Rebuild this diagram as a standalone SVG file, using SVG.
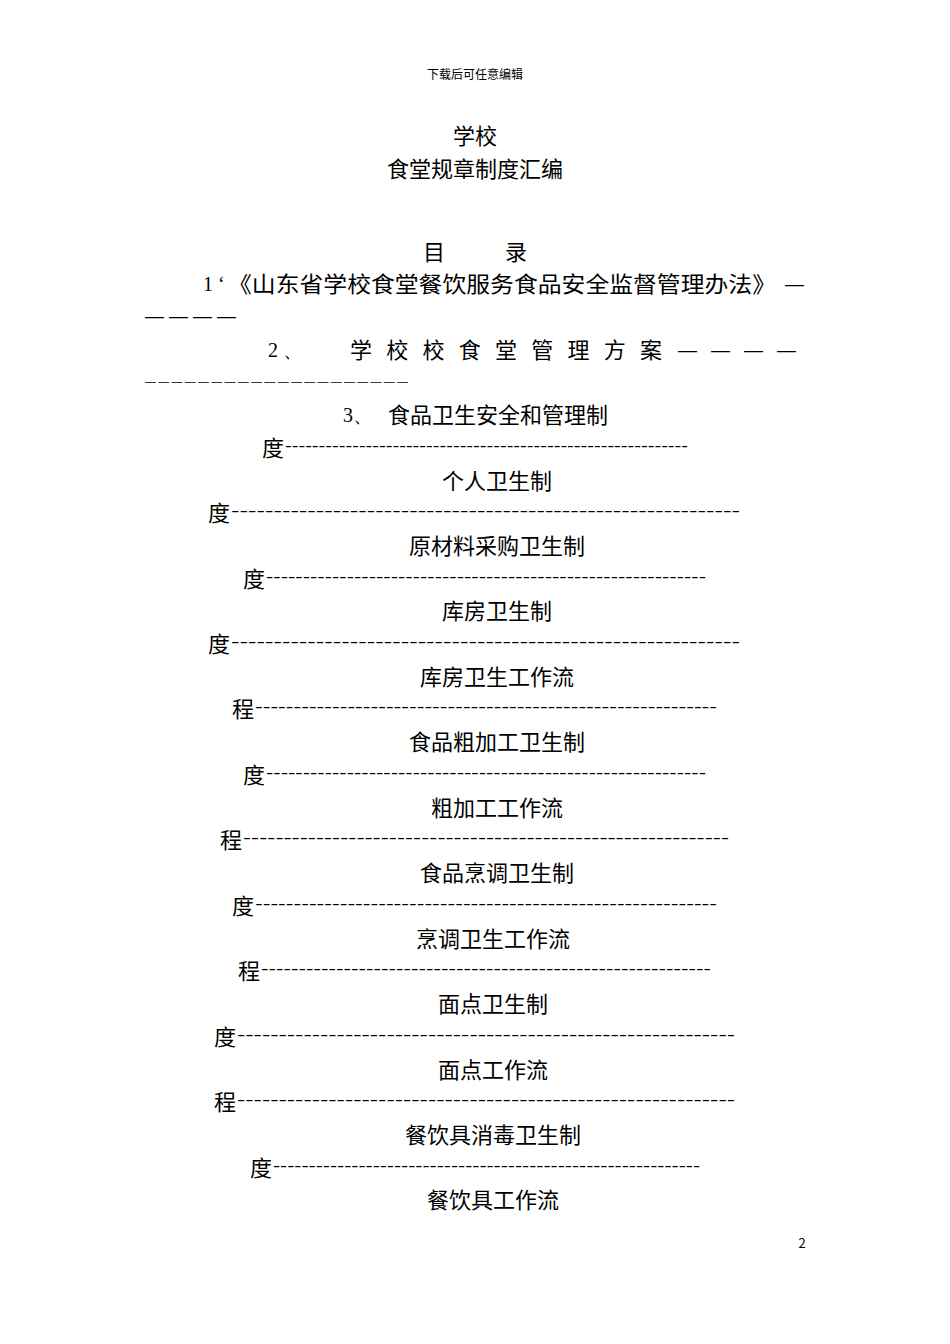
<svg xmlns="http://www.w3.org/2000/svg" width="950" height="1344" viewBox="0 0 950 1344">
<style>
text{font-family:"Noto Sans CJK SC","Liberation Sans",sans-serif;fill:#000}
.t{font-size:22px;text-anchor:middle}
.l{font-size:22px}
.d{font-family:"Liberation Sans",sans-serif;font-size:16px}
.e{font-family:"Liberation Sans",sans-serif;font-size:19px}
.s{font-family:"Liberation Sans",sans-serif;font-size:11px}
.n{font-family:"Liberation Serif",serif;font-size:20px}
</style>
<rect width="950" height="1344" fill="#fff"/>
<text x="475" y="79" font-size="12" text-anchor="middle">下载后可任意编辑</text>
<text class="t" x="475" y="144">学校</text>
<text class="t" x="475" y="177">食堂规章制度汇编</text>
<text class="l" x="423" y="260">目</text>
<text class="l" x="505" y="260">录</text>
<text class="n" x="203" y="291">1 ‘</text>
<text class="l" x="228" y="292" textLength="548" lengthAdjust="spacingAndGlyphs">《山东省学校食堂餐饮服务食品安全监督管理办法》</text>
<text class="e" x="785" y="290">—</text>
<text class="e" x="145" y="322">—</text><text class="e" x="169" y="322">—</text><text class="e" x="193" y="322">—</text><text class="e" x="217" y="322">—</text>
<text class="n" x="268" y="357">2 、</text>
<text class="l" x="350" y="358" textLength="312" lengthAdjust="spacing">学校校食堂管理方案</text>
<text class="e" x="678" y="356">—</text><text class="e" x="711" y="356">—</text><text class="e" x="744" y="356">—</text><text class="e" x="777" y="356">—</text>
<text class="s" x="145" y="385" textLength="263" lengthAdjust="spacing">————————————————————</text>
<text class="n" x="343" y="422">3、</text>
<text class="l" x="388" y="423">食品卫生安全和管理制</text>
<g class="rows">
<text class="t" x="497" y="489">个人卫生制</text>
<text class="t" x="497" y="554">原材料采购卫生制</text>
<text class="t" x="497" y="619">库房卫生制</text>
<text class="t" x="497" y="685">库房卫生工作流</text>
<text class="t" x="497" y="750">食品粗加工卫生制</text>
<text class="t" x="497" y="816">粗加工工作流</text>
<text class="t" x="497" y="881">食品烹调卫生制</text>
<text class="t" x="493" y="947">烹调卫生工作流</text>
<text class="t" x="493" y="1012">面点卫生制</text>
<text class="t" x="493" y="1078">面点工作流</text>
<text class="t" x="493" y="1143">餐饮具消毒卫生制</text>
<text class="t" x="493" y="1208">餐饮具工作流</text>
</g>
<g class="dashes">
<text class="l" x="262" y="456">度</text><text class="d" x="285" y="451" textLength="403" lengthAdjust="spacingAndGlyphs">------------------------------------------------------------</text>
<text class="l" x="208" y="521">度</text><text class="d" x="231" y="516" textLength="509" lengthAdjust="spacingAndGlyphs">------------------------------------------------------------</text>
<text class="l" x="243" y="587">度</text><text class="d" x="266" y="582" textLength="440" lengthAdjust="spacingAndGlyphs">------------------------------------------------------------</text>
<text class="l" x="208" y="652">度</text><text class="d" x="231" y="647" textLength="509" lengthAdjust="spacingAndGlyphs">------------------------------------------------------------</text>
<text class="l" x="232" y="717">程</text><text class="d" x="255" y="712" textLength="462" lengthAdjust="spacingAndGlyphs">------------------------------------------------------------</text>
<text class="l" x="243" y="783">度</text><text class="d" x="266" y="778" textLength="440" lengthAdjust="spacingAndGlyphs">------------------------------------------------------------</text>
<text class="l" x="220" y="848">程</text><text class="d" x="243" y="843" textLength="486" lengthAdjust="spacingAndGlyphs">------------------------------------------------------------</text>
<text class="l" x="232" y="914">度</text><text class="d" x="255" y="909" textLength="462" lengthAdjust="spacingAndGlyphs">------------------------------------------------------------</text>
<text class="l" x="238" y="979">程</text><text class="d" x="261" y="974" textLength="450" lengthAdjust="spacingAndGlyphs">------------------------------------------------------------</text>
<text class="l" x="214" y="1045">度</text><text class="d" x="237" y="1040" textLength="498" lengthAdjust="spacingAndGlyphs">------------------------------------------------------------</text>
<text class="l" x="214" y="1110">程</text><text class="d" x="237" y="1105" textLength="498" lengthAdjust="spacingAndGlyphs">------------------------------------------------------------</text>
<text class="l" x="250" y="1176">度</text><text class="d" x="273" y="1171" textLength="427" lengthAdjust="spacingAndGlyphs">------------------------------------------------------------</text>
</g>
<text x="802" y="1248" font-size="13" font-family="Liberation Sans,sans-serif" text-anchor="middle">2</text>
</svg>
